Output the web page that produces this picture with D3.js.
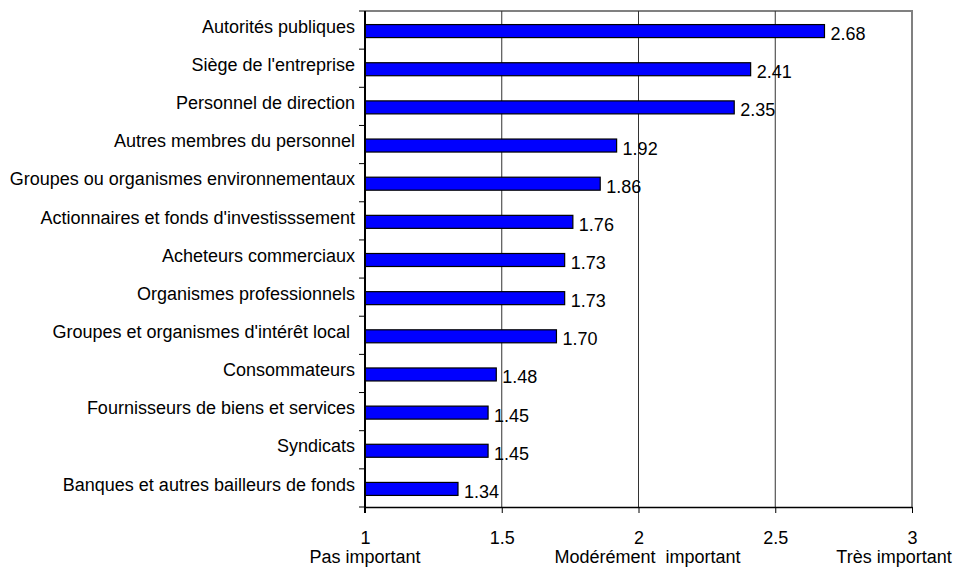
<!DOCTYPE html>
<html>
<head>
<meta charset="utf-8">
<script src="https://cdn.jsdelivr.net/npm/d3@7"></script>
<style>
body { margin: 0; background: #fff; }
text { font-family: "Liberation Sans", Arial, sans-serif; white-space: pre; }
</style>
</head>
<body>
<div id="chart"></div>
<script>
// data
var categories = [
	"Autorités publiques",
	"Siège de l'entreprise",
	"Personnel de direction",
	"Autres membres du personnel",
	"Groupes ou organismes environnementaux",
	"Actionnaires et fonds d'investisssement",
	"Acheteurs commerciaux",
	"Organismes professionnels",
	"Groupes et organismes d'intérêt local ",
	"Consommateurs",
	"Fournisseurs de biens et services",
	"Syndicats",
	"Banques et autres bailleurs de fonds"
];
var values = [2.68, 2.41, 2.35, 1.92, 1.86, 1.76, 1.73, 1.73, 1.70, 1.48, 1.45, 1.45, 1.34];
var tickValues = [1, 1.5, 2, 2.5, 3];
var scaleLabels = ["Pas important", "Modérément  important", "Très important"];
var scaleLabelValues = [1, 2, 3];

var FONT = "18px";

var margin = {top: 11, right: 47, bottom: 64, left: 365},
	width = 959 - margin.left - margin.right,
	height = 571 - margin.top - margin.bottom;

var svg = d3.select("#chart")
	.append("svg")
	.attr("width", 959)
	.attr("height", 571)
	.append("g")
	.attr("transform", "translate(" + margin.left + "," + margin.top + ")");

var x = d3.scaleLinear()
	.domain([1, 3])
	.range([0, width]);

var y = d3.scaleBand()
	.domain(categories)
	.range([0, height]);

// plot frame (top/right grey)
svg.append("path")
	.attr("d", "M0,0H" + width + "V" + height)
	.attr("fill", "none")
	.attr("stroke", "#808080")
	.attr("stroke-width", 2);

// vertical gridlines
svg.append("g")
	.selectAll("line")
	.data(tickValues.filter(d => d > 1 && d < 3))
	.enter()
	.append("line")
	.attr("x1", d => x(d))
	.attr("x2", d => x(d))
	.attr("y1", 0)
	.attr("y2", height)
	.attr("stroke", "#333")
	.attr("stroke-width", 1);

// bars
var barH = 13;
svg.append("g")
	.selectAll("rect")
	.data(values)
	.enter()
	.append("rect")
	.attr("x", x(1))
	.attr("y", (d, i) => y(categories[i]) + y.bandwidth() / 2 - barH / 2 + 1)
	.attr("width", d => x(d) - x(1))
	.attr("height", barH)
	.attr("fill", "#0000ff")
	.attr("stroke", "#000")
	.attr("stroke-width", 1.2);

// value labels
svg.append("g")
	.selectAll("text")
	.data(values)
	.enter()
	.append("text")
	.attr("x", d => x(d) + 6)
	.attr("y", (d, i) => y(categories[i]) + y.bandwidth() / 2 + 10)
	.attr("font-size", FONT)
	.attr("fill", "#000")
	.text(d => d.toFixed(2));

// left axis
svg.append("g")
	.call(d3.axisLeft(y)
		.tickSize(0)
		.tickPadding(10))
	.call(g => g.select(".domain").remove())
	.call(g => g.selectAll("text")
		.attr("font-size", FONT)
		.attr("font-family", "Liberation Sans, Arial, sans-serif")
		.attr("fill", "#000")
		.attr("dy", "0.15em"));

// category separator ticks
svg.append("g")
	.selectAll("line")
	.data(d3.range(categories.length + 1))
	.enter()
	.append("line")
	.attr("x1", -6)
	.attr("x2", 0)
	.attr("y1", i => i * y.step())
	.attr("y2", i => i * y.step())
	.attr("stroke", "#000");

svg.append("line")
	.attr("x1", 0).attr("x2", 0)
	.attr("y1", 0).attr("y2", height + 6)
	.attr("stroke", "#000")
	.attr("stroke-width", 2);

// bottom axis
svg.append("g")
	.attr("transform", "translate(0," + height + ")")
	.call(d3.axisBottom(x)
		.tickValues(tickValues)
		.tickFormat(d3.format("~g"))
		.tickSize(6)
		.tickSizeOuter(0)
		.tickPadding(18))
	.call(g => g.select(".domain").attr("stroke-width", 1.5))
	.call(g => g.selectAll("text")
		.attr("font-size", FONT)
		.attr("font-family", "Liberation Sans, Arial, sans-serif")
		.attr("fill", "#000"));

// scale descriptions under the ticks
var labelShift = [0, 9, -18];
svg.append("g")
	.selectAll("text")
	.data(scaleLabels)
	.enter()
	.append("text")
	.attr("x", (d, i) => x(scaleLabelValues[i]) + labelShift[i])
	.attr("y", height + 56)
	.attr("text-anchor", "middle")
	.attr("font-size", FONT)
	.attr("fill", "#000")
	.text(d => d);
</script>
</body>
</html>
